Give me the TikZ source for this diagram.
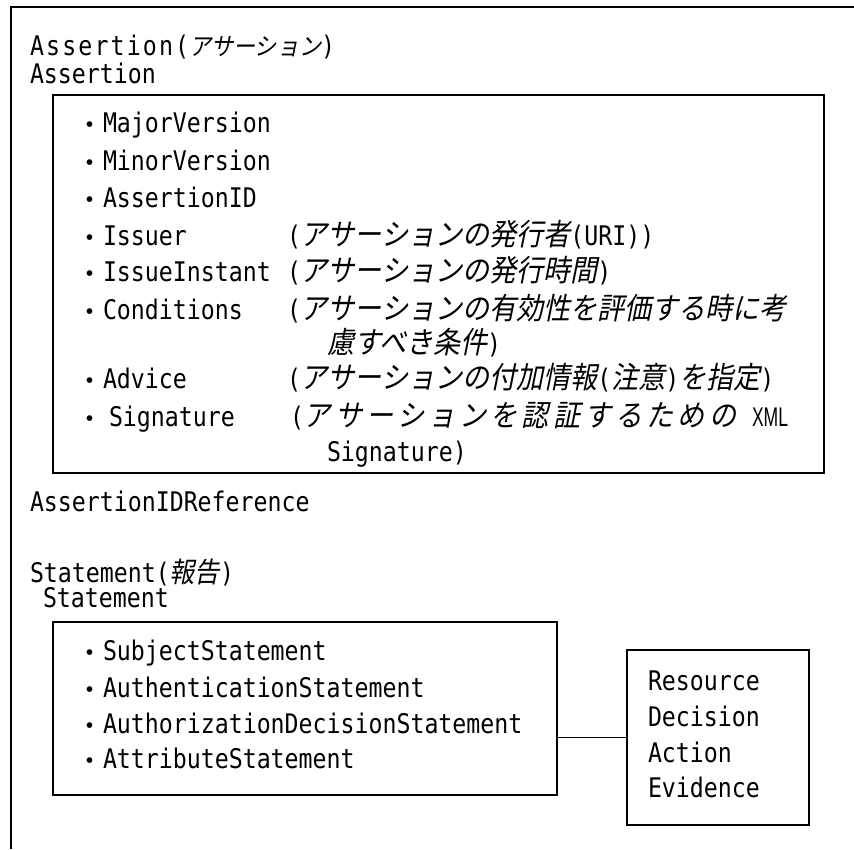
\documentclass[tikz,border=0pt]{standalone}
\usepackage{fontspec}
% condensed monospace for the element names, slanted gothic for the Japanese notes
\newfontfamily\lat[FakeStretch=0.86]{DejaVu Sans Mono}
\newfontfamily\jp[FakeSlant=0.2,FakeStretch=0.9]{Noto Sans CJK JP}
\newfontfamily\jpup{Noto Sans CJK JP}
\newfontfamily\nsans[FakeStretch=0.65]{Liberation Sans}
% Japanese run: slanted, given size, no effect on the line box
\newcommand\ja[2][30]{{\jp\fontsize{#1}{#1}\selectfont\smash{#2}}}
% list bullet followed by the item name
\newcommand\bul{\makebox[12pt][c]{\jpup\fontsize{34}{34}\selectfont\smash{\raisebox{-5pt}{･}}}\hspace{7pt}}
\begin{document}
\begin{tikzpicture}[x=1pt,y=-1pt,
  frame/.style={line width=1.6pt},
  box/.style={draw, line width=1.6pt, inner sep=0pt},
  link/.style={line width=1.4pt},
  txt/.style={anchor=base west, inner sep=0pt, outer sep=0pt,
              font=\lat\fontsize{27}{27}\selectfont}]
\useasboundingbox (0,0) rectangle (854,849);

% outer frame (top and left edges)
\coordinate (frameTR) at (854,7);
\coordinate (frameTL) at (11,7);
\coordinate (frameBL) at (11,849);
\draw[frame] (frameTR) -- (frameTL) -- (frameBL);

% boxes
\node[box, minimum width=771pt, minimum height=378pt] (assertbox) at (438.5,284) {};
\node[box, minimum width=504pt, minimum height=173pt] (stmtbox) at (305,708.5) {};
\node[box, minimum width=182pt, minimum height=175pt] (authzbox) at (718,737.5) {};
\draw[link] (authzbox.west) -- (stmtbox.east |- authzbox.west);

% headings
\node[txt] (h1) at (30,55) {{\addfontfeature{LetterSpace=8}Assertion(}\ja[24.5]{アサーション})};
\node[txt] (h2) at (30,83) {Assertion};

% assertion attributes
\node[txt] (a1) at (84,132) {\bul MajorVersion};
\node[txt] (a2) at (84,170) {\bul MinorVersion};
\node[txt] (a3) at (84,207) {\bul AssertionID};
\node[txt] (a4) at (84,245) {\bul Issuer};
\node[txt] (a5) at (84,281) {\bul IssueInstant};
\node[txt] (a6) at (84,319) {\bul Conditions};
\node[txt] (a7) at (84,388) {\bul Advice};
\node[txt] (a8) at (84,426) {\bul\hspace{6pt}Signature};

\node[txt] (d4) at (287,245) {(\ja{アサーションの発行者}(URI))};
\node[txt] (d5) at (287,281) {(\ja{アサーションの発行時間})};
\node[txt] (d6) at (287,319) {(\ja{アサーションの有効性を評価する時に考}};
\node[txt] (d6b) at (327,353) {\ja{慮すべき条件})};
\node[txt] (d7) at (287,388) {(\ja{アサーションの付加情報}(\ja{注意})\ja{を指定})};
\node[txt] (d8) at (290,426) {(\ja{\addfontfeature{LetterSpace=14}アサーションを認証するための}\hspace{16pt}{\nsans\fontsize{27}{27}\selectfont XML}};
\node[txt] (d8b) at (327,461) {Signature)};

\node[txt] (ref) at (30,511) {AssertionIDReference};

% statements
\node[txt] (s1) at (30,582) {Statement(\ja[28]{報告})};
\node[txt] (s2) at (43,607) {Statement};

\node[txt] (b1) at (84,660) {\bul SubjectStatement};
\node[txt] (b2) at (84,697) {\bul AuthenticationStatement};
\node[txt] (b3) at (84,733) {\bul AuthorizationDecisionStatement};
\node[txt] (b4) at (84,768) {\bul AttributeStatement};

\node[txt] (r1) at (648,690) {Resource};
\node[txt] (r2) at (648,726) {Decision};
\node[txt] (r3) at (648,762) {Action};
\node[txt] (r4) at (648,797) {Evidence};
\end{tikzpicture}
\end{document}
